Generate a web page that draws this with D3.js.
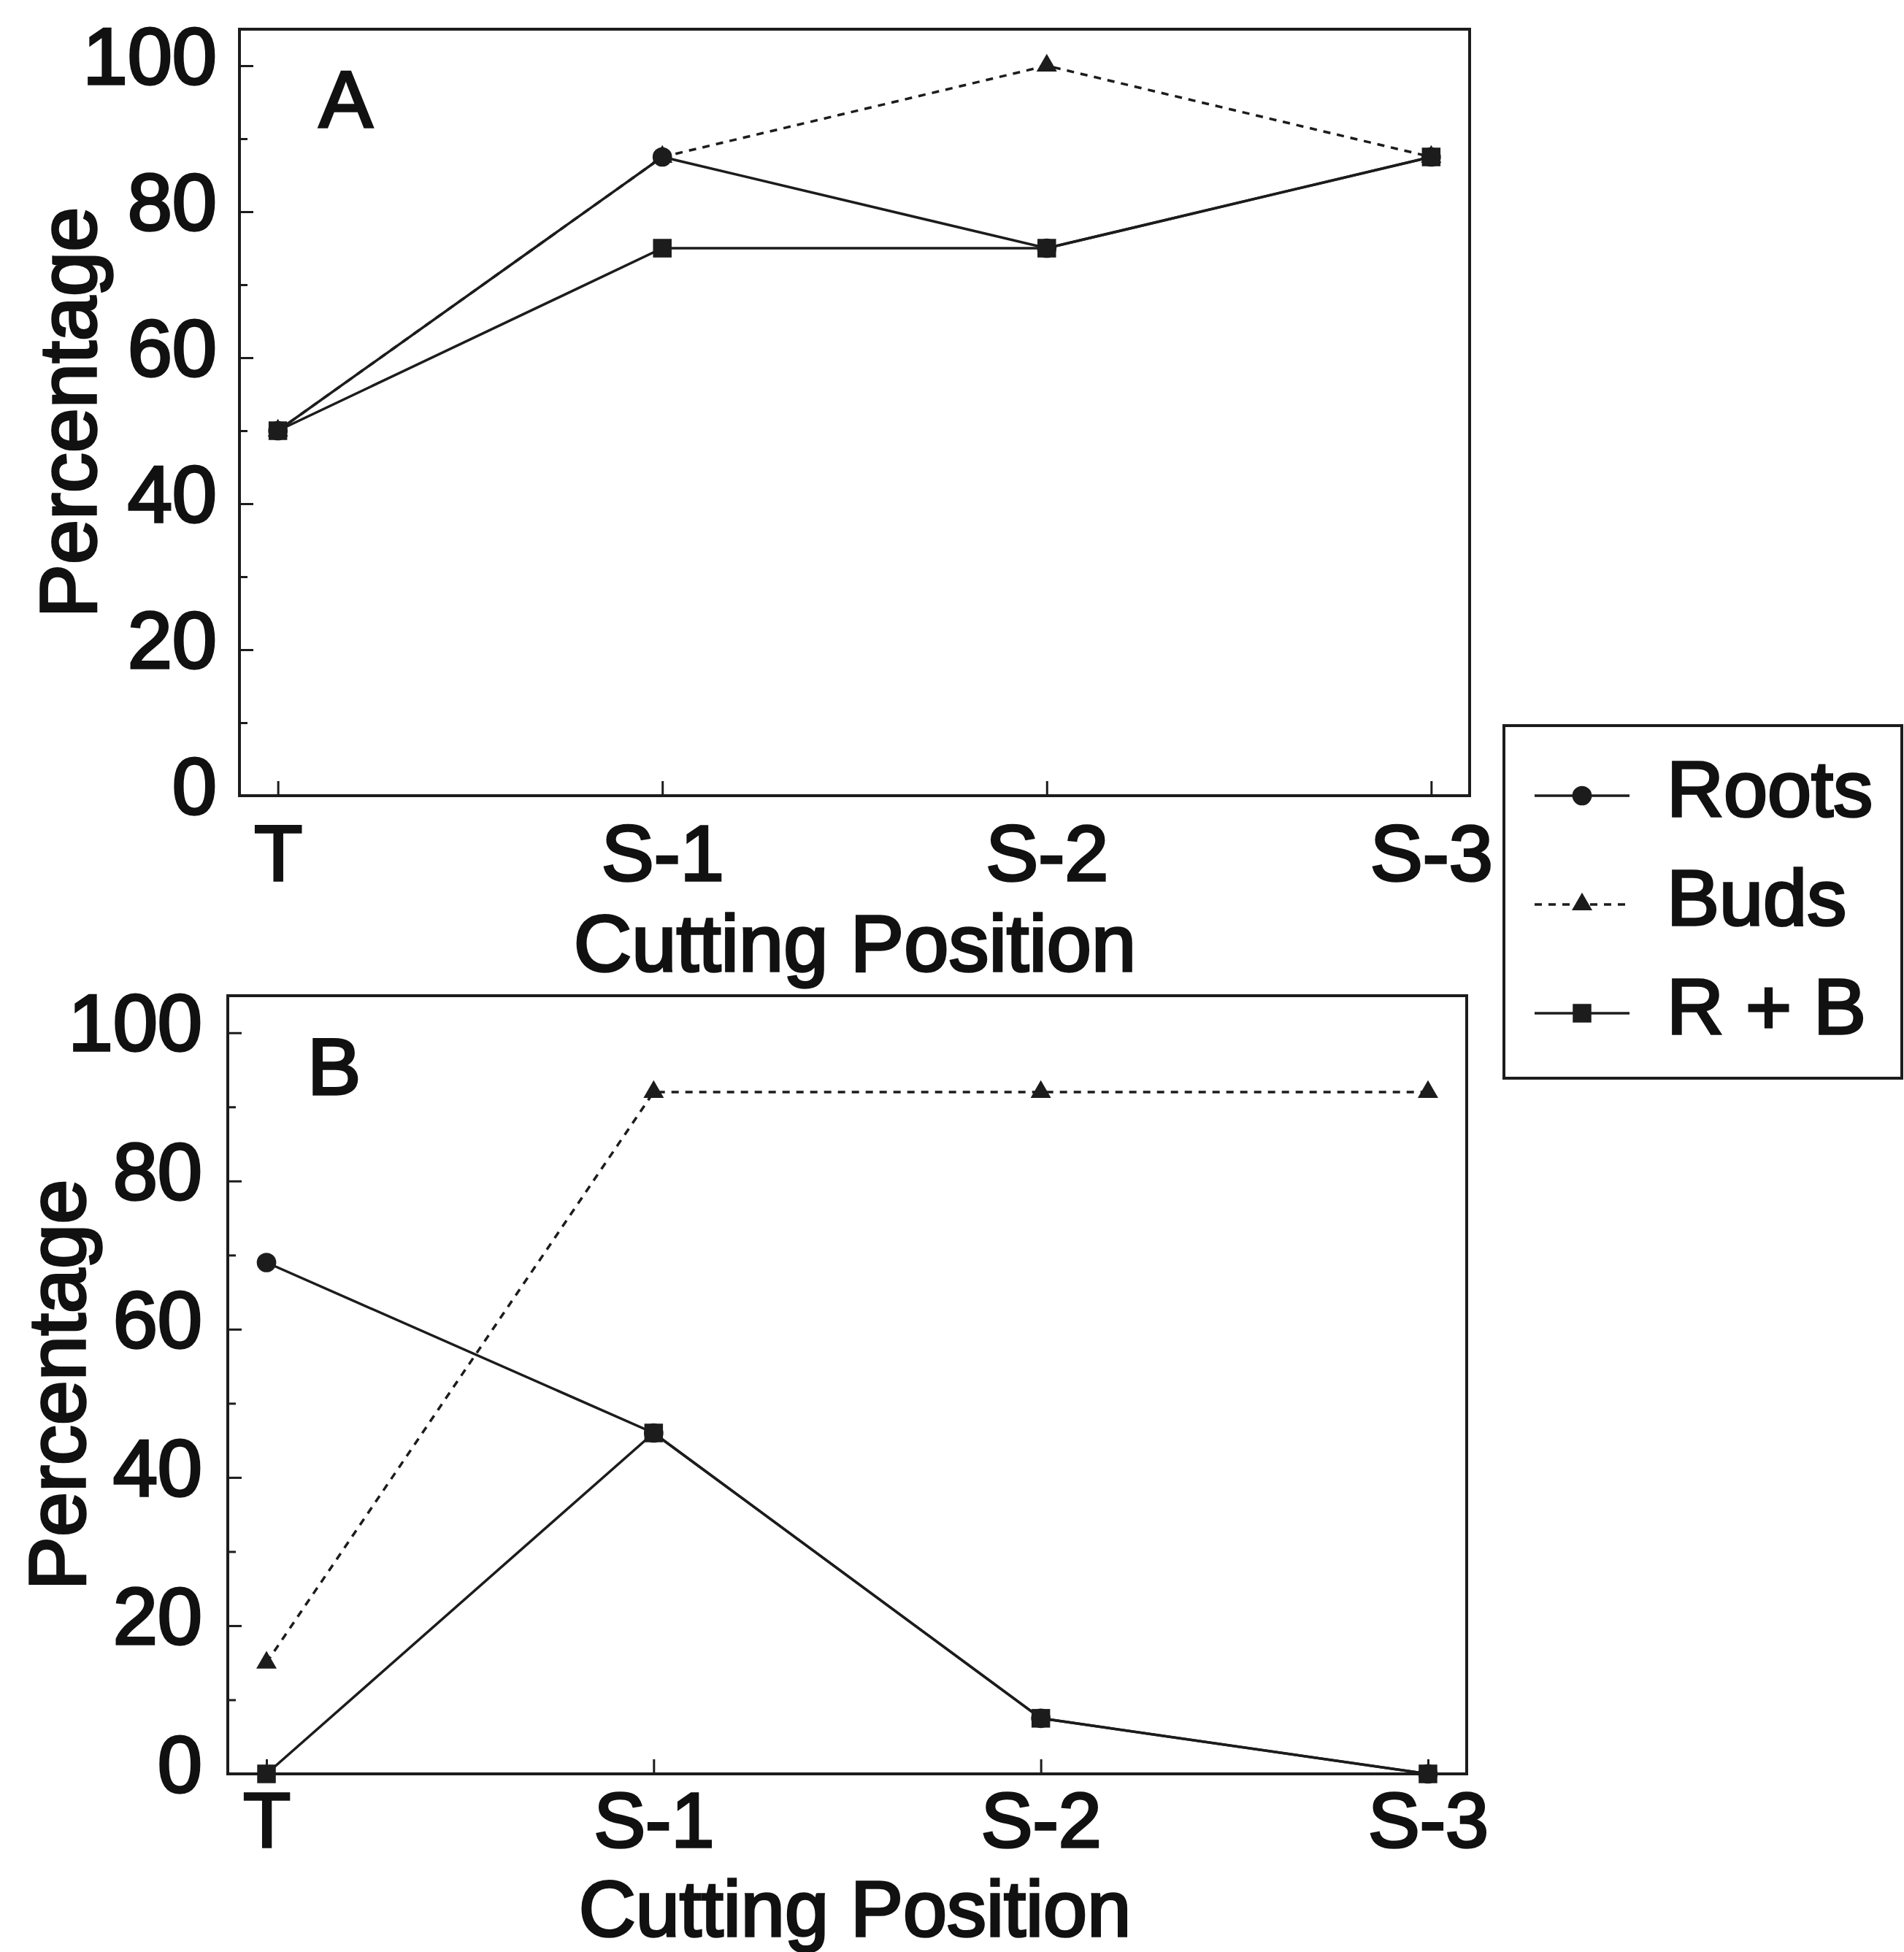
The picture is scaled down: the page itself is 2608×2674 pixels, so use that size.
<!DOCTYPE html>
<html>
<head>
<meta charset="utf-8">
<script src="https://cdn.jsdelivr.net/npm/d3@7"></script>
<style>
  body { margin: 0; background: #fff; }
  svg text { font-family: "Liberation Sans", Arial, Helvetica, sans-serif; fill: #111; stroke: #111; stroke-width: 3.5px; paint-order: stroke; }
</style>
</head>
<body>
<div id="chart"></div>
<script>
// categories + series
var positions = ["T", "S-1", "S-2", "S-3"];
var seriesNames = ["Roots", "Buds", "R + B"];

// panel A
var rootsA = [50, 87.5, 75, 87.5];
var budsA = [50, 87.5, 100, 87.5];
var rbA = [50, 75, 75, 87.5];

// panel B
var rootsB = [69, 46, 7.5, 0];
var budsB = [15, 92, 92, 92];
var rbB = [0, 46, 7.5, 0];

var majorTicks = [0, 20, 40, 60, 80, 100];
var minorTicks = [10, 30, 50, 70, 90];

var ink = "#1c1c1c";

var svg = d3.select("#chart").append("svg")
    .attr("width", 2608)
    .attr("height", 2674);

svg.append("rect").attr("width", 2608).attr("height", 2674).attr("fill", "#fff");

// marker shapes per series
var markerFor = {
    "Roots": d3.symbol().type(d3.symbolCircle).size(560),
    "Buds": d3.symbol().type(d3.symbolTriangle).size(340),
    "R + B": d3.symbol().type(d3.symbolSquare).size(650)
};
var dashFor = { "Roots": null, "Buds": "10,9", "R + B": null };

var panels = [
    { label: "A", left: 328, right: 2013, top: 40, bottom: 1090, labelPad: 31, titleX: 131,
      tickFont: 108, xLabelPad: 116, xTitleY: 1330, titleFont: 110, data: [rootsA, budsA, rbA] },
    { label: "B", left: 312, right: 2009, top: 1364, bottom: 2430, labelPad: 35, titleX: 116,
      tickFont: 106, xLabelPad: 100, xTitleY: 2652, titleFont: 108, data: [rootsB, budsB, rbB] }
];

panels.forEach(drawPanel);
drawLegend();

function drawPanel(p) {
    var x = d3.scalePoint().domain(positions).range([p.left, p.right]).padding(0.1);
    var y = d3.scaleLinear().domain([0, 105]).range([p.bottom, p.top]);

    var g = svg.append("g").attr("class", "panel");

    // minor y ticks (inside, no labels)
    g.append("g")
        .attr("transform", "translate(" + p.left + ",0)")
        .call(d3.axisLeft(y).tickValues(minorTicks).tickSize(-11).tickFormat(""))
        .call(function(a) { a.select(".domain").remove(); })
        .selectAll("line").attr("stroke", ink).attr("stroke-width", 3);

    // major y ticks + labels
    var yAx = g.append("g")
        .attr("transform", "translate(" + p.left + ",0)")
        .attr("color", ink)
        .call(d3.axisLeft(y).tickValues(majorTicks).tickSize(-19).tickPadding(p.labelPad))
        .call(function(a) { a.select(".domain").remove(); });
    yAx.selectAll("line").attr("stroke-width", 3);
    yAx.selectAll("text")
        .attr("font-size", 110)
        .attr("font-family", "Liberation Sans, Arial, sans-serif")
        .attr("dy", "0.22em");

    // x ticks + labels
    var xAx = g.append("g")
        .attr("transform", "translate(0," + p.bottom + ")")
        .attr("color", ink)
        .call(d3.axisBottom(x).tickSize(-20).tickPadding(p.xLabelPad))
        .call(function(a) { a.select(".domain").remove(); });
    xAx.selectAll("line").attr("stroke-width", 3);
    xAx.selectAll("text")
        .attr("font-size", p.tickFont)
        .attr("font-family", "Liberation Sans, Arial, sans-serif")
        .attr("dy", 0);

    // frame
    g.append("rect")
        .attr("x", p.left).attr("y", p.top)
        .attr("width", p.right - p.left).attr("height", p.bottom - p.top)
        .attr("fill", "none").attr("stroke", ink).attr("stroke-width", 4);

    // panel letter
    g.append("text")
        .attr("x", p.left + 109)
        .attr("y", y(100) + 84)
        .attr("font-size", 110)
        .text(p.label);

    // axis titles
    g.append("text")
        .attr("x", 1171)
        .attr("y", p.xTitleY)
        .attr("text-anchor", "middle")
        .attr("font-size", p.titleFont)
        .text("Cutting Position");

    g.append("text")
        .attr("transform", "translate(" + p.titleX + "," + ((p.top + p.bottom) / 2) + ") rotate(-90)")
        .attr("text-anchor", "middle")
        .attr("font-size", 110)
        .text("Percentage");

    var line = d3.line()
        .x(function(d, i) { return x(positions[i]); })
        .y(function(d) { return y(d); });

    // draw order: buds, roots, R + B (squares end on top)
    var order = [1, 0, 2];
    order.forEach(function(k) {
        g.append("path")
            .datum(p.data[k])
            .attr("d", line)
            .attr("fill", "none")
            .attr("stroke", ink)
            .attr("stroke-width", 3.5)
            .attr("stroke-dasharray", dashFor[seriesNames[k]]);
    });
    order.forEach(function(k) {
        g.selectAll(".m" + k)
            .data(p.data[k])
            .enter().append("path")
            .attr("class", "m" + k)
            .attr("transform", function(d, i) { return "translate(" + x(positions[i]) + "," + y(d) + ")"; })
            .attr("d", markerFor[seriesNames[k]])
            .attr("fill", ink);
    });
}

function drawLegend() {
    var lg = svg.append("g").attr("class", "legend");
    lg.append("rect")
        .attr("x", 2060).attr("y", 994)
        .attr("width", 545).attr("height", 483)
        .attr("fill", "#fff").attr("stroke", ink).attr("stroke-width", 4);

    var rowY = d3.scalePoint().domain(seriesNames).range([1090, 1388]);

    var item = lg.selectAll(".item")
        .data(seriesNames)
        .enter().append("g")
        .attr("class", "item")
        .attr("transform", function(d) { return "translate(0," + rowY(d) + ")"; });

    item.append("line")
        .attr("x1", 2102).attr("x2", 2232)
        .attr("stroke", ink).attr("stroke-width", 3.5)
        .attr("stroke-dasharray", function(d) { return dashFor[d]; });

    item.append("path")
        .attr("transform", "translate(2167,0)")
        .attr("d", function(d) { return markerFor[d](); })
        .attr("fill", ink);

    item.append("text")
        .attr("x", 2283)
        .attr("y", 28)
        .attr("font-size", 108)
        .text(function(d) { return d; });
}
</script>
</body>
</html>
